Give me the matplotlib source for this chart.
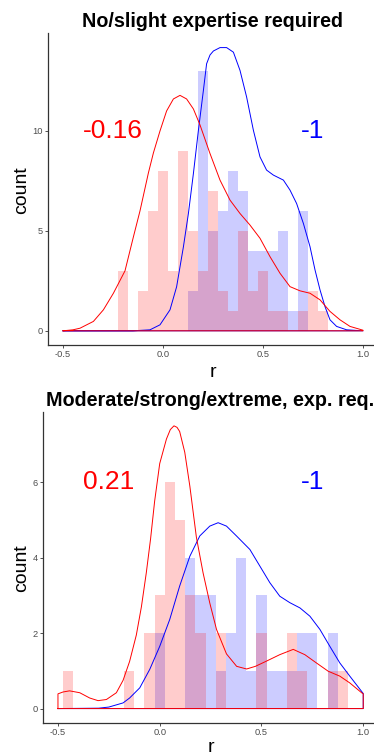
import matplotlib
matplotlib.use("Agg")
import matplotlib.pyplot as plt

plt.rcParams['font.family'] = ['Liberation Sans', 'DejaVu Sans']

# histogram bins (width 0.05), centres and counts
p1_red_r = [-0.2, -0.1, -0.05, 0.0, 0.05, 0.1, 0.15, 0.2, 0.25, 0.3, 0.35, 0.4, 0.45, 0.5, 0.55, 0.6, 0.7, 0.75, 0.8]
p1_red_n = [3, 2, 6, 8, 3, 9, 5, 3, 7, 2, 1, 5, 2, 3, 1, 1, 1, 2, 1]
p1_blue_r = [0.15, 0.2, 0.25, 0.3, 0.35, 0.4, 0.45, 0.5, 0.55, 0.6, 0.65, 0.7]
p1_blue_n = [2, 13, 5, 6, 8, 7, 4, 4, 4, 5, 1, 6]

p2_red_r = [-0.45, -0.15, -0.05, 0.0, 0.05, 0.1, 0.15, 0.2, 0.3, 0.5, 0.65, 0.7, 0.85, 0.9]
p2_red_n = [1, 1, 2, 3, 6, 5, 3, 2, 2, 2, 2, 1, 1, 1]
p2_blue_r = [0.0, 0.15, 0.2, 0.25, 0.3, 0.35, 0.4, 0.45, 0.5, 0.55, 0.6, 0.65, 0.7, 0.75, 0.85]
p2_blue_n = [2, 4, 3, 3, 1, 2, 4, 1, 3, 1, 1, 1, 2, 2, 2]

# density outlines (scaled to counts)
p1_red_x = [-0.5, -0.45, -0.415, -0.348, -0.298, -0.248, -0.19, -0.148, -0.115, -0.073, -0.048, -0.015,
            0.018, 0.052, 0.085, 0.118, 0.152, 0.185, 0.235, 0.285, 0.335, 0.385, 0.435, 0.485, 0.535,
            0.585, 0.635, 0.685, 0.735, 0.785, 0.835, 0.885, 0.935, 1.0]
p1_red_y = [0, 0.05, 0.13, 0.47, 1.05, 1.88, 3.0, 4.7, 6.0, 7.9, 8.9, 10.0,
            11.0, 11.6, 11.78, 11.6, 11.1, 10.3, 8.87, 7.54, 6.54, 5.87, 5.29, 4.63, 3.71,
            2.88, 2.21, 2.0, 1.88, 1.55, 0.97, 0.55, 0.22, 0.03]
p1_blue_x = [-0.5, -0.15, -0.065, -0.015, 0.035, 0.068, 0.102, 0.127, 0.152, 0.177, 0.202, 0.218,
             0.235, 0.252, 0.285, 0.318, 0.352, 0.385, 0.418, 0.452, 0.485, 0.518, 0.552, 0.602, 0.635,
             0.668, 0.702, 0.735, 0.76, 0.785, 0.81, 0.835, 0.868, 0.918, 1.0]
p1_blue_y = [0, 0, 0.05, 0.3, 1.05, 2.2, 4.2, 5.87, 7.87, 10.03, 12.03, 13.36,
             13.8, 14.0, 14.17, 14.17, 13.94, 13.03, 11.7, 10.03, 8.7, 8.04, 7.79, 7.54, 7.04,
             6.37, 5.37, 4.21, 3.05, 2.05, 1.21, 0.55, 0.22, 0.05, 0]

p2_red_x = [-0.5, -0.475, -0.443, -0.393, -0.344, -0.303, -0.262, -0.213, -0.18, -0.148, -0.115, -0.09,
            -0.066, -0.045, -0.025, 0.0, 0.033, 0.052, 0.07, 0.085, 0.098, 0.123, 0.148, 0.18, 0.213, 0.246,
            0.279, 0.328, 0.378, 0.427, 0.47, 0.525, 0.59, 0.656, 0.713, 0.77, 0.828, 0.885, 0.934, 0.992, 1.0]
p2_red_y = [0.39, 0.44, 0.47, 0.42, 0.28, 0.21, 0.24, 0.42, 0.75, 1.25, 1.95, 2.7,
            3.6, 4.5, 5.5, 6.5, 7.15, 7.4, 7.5, 7.46, 7.35, 6.8, 5.9, 4.55, 3.6, 2.8,
            2.1, 1.45, 1.12, 1.05, 1.12, 1.26, 1.43, 1.57, 1.43, 1.21, 0.99, 0.86, 0.68, 0.42, 0.39]
p2_blue_x = [-0.5, -0.3, -0.25, -0.18, -0.148, -0.098, -0.049, 0.0, 0.049, 0.098, 0.148, 0.197,
             0.246, 0.287, 0.328, 0.377, 0.443, 0.492, 0.541, 0.59, 0.639, 0.689, 0.738, 0.787,
             0.836, 0.885, 0.934, 0.997, 1.0]
p2_blue_y = [0, 0.01, 0.04, 0.15, 0.28, 0.55, 1.04, 1.65, 2.36, 3.25, 4.04, 4.58,
             4.84, 4.93, 4.84, 4.58, 4.22, 3.78, 3.34, 2.98, 2.81, 2.67, 2.45, 2.1,
             1.65, 1.21, 0.86, 0.42, 0.4]

titles = ["No/slight expertise required", "Moderate/strong/extreme, exp. req."]
red_labels = ["-0.16", "0.21"]
blue_labels = ["-1", "-1"]
label_y = [10, 6]


def draw_panel(ax, red_r, red_n, blue_r, blue_n, rx, ry, bx, by, yticks, ylim, red_lab, blue_lab, ly):
    ax.bar(blue_r, blue_n, width=0.05, color='blue', alpha=0.2, linewidth=0)
    ax.bar(red_r, red_n, width=0.05, color='red', alpha=0.2, linewidth=0)
    # outlines closed down to the baseline like geom_density
    ax.plot([-0.5] + bx + [1.0, -0.5], [0] + by + [0, 0], color='blue', lw=0.7,
            solid_joinstyle='round')
    ax.plot([-0.5] + rx + [1.0, -0.5], [0] + ry + [0, 0], color='red', lw=0.7,
            solid_joinstyle='round')
    ax.text(-0.25, ly, red_lab, color='red', fontsize=19, ha='center', va='center')
    ax.text(0.75, ly, blue_lab, color='blue', fontsize=19, ha='center', va='center')
    ax.set_xlim(-0.575, 1.075)
    ax.set_ylim(*ylim)
    ax.set_xticks([-0.5, 0.0, 0.5, 1.0])
    ax.set_xticklabels(['-0.5', '0.0', '0.5', '1.0'])
    ax.set_yticks(yticks)
    for s in ['top', 'right']:
        ax.spines[s].set_visible(False)
    for s in ['left', 'bottom']:
        ax.spines[s].set_color('#333333')
        ax.spines[s].set_linewidth(0.9)
    ax.tick_params(length=2.2, width=0.6, color='#333333', labelsize=6.7,
                   labelcolor='#4d4d4d', pad=1.5)
    ax.set_facecolor('white')


fig = plt.figure(figsize=(3.74, 7.56), dpi=100)

ax1 = fig.add_axes([48 / 374, 1 - 345 / 756, 330 / 374, 312 / 756])
draw_panel(ax1, p1_red_r, p1_red_n, p1_blue_r, p1_blue_n, p1_red_x, p1_red_y, p1_blue_x, p1_blue_y,
           [0, 5, 10], (-0.71, 14.9), red_labels[0], blue_labels[0], label_y[0])

ax2 = fig.add_axes([42.7 / 374, 1 - 722.7 / 756, 335.8 / 374, 311 / 756])
draw_panel(ax2, p2_red_r, p2_red_n, p2_blue_r, p2_blue_n, p2_red_x, p2_red_y, p2_blue_x, p2_blue_y,
           [0, 2, 4, 6], (-0.375, 7.875), red_labels[1], blue_labels[1], label_y[1])

fig.text(213 / 374, 1 - 27 / 756, titles[0], fontsize=14.2, fontweight='bold', ha='center', va='baseline')
fig.text(210.6 / 374, 1 - 406 / 756, titles[1], fontsize=14.2, fontweight='bold', ha='center', va='baseline')
fig.text(22 / 374, 1 - 190 / 756, 'count', fontsize=14, rotation=90, ha='center', va='center')
fig.text(22 / 374, 1 - 568 / 756, 'count', fontsize=14, rotation=90, ha='center', va='center')
fig.text(213 / 374, 1 - 377 / 756, 'r', fontsize=14, ha='center', va='baseline')
fig.text(210.6 / 374, 1 - 752 / 756, 'r', fontsize=14, ha='center', va='baseline')

fig.savefig('out.png', dpi=100, facecolor='white')
